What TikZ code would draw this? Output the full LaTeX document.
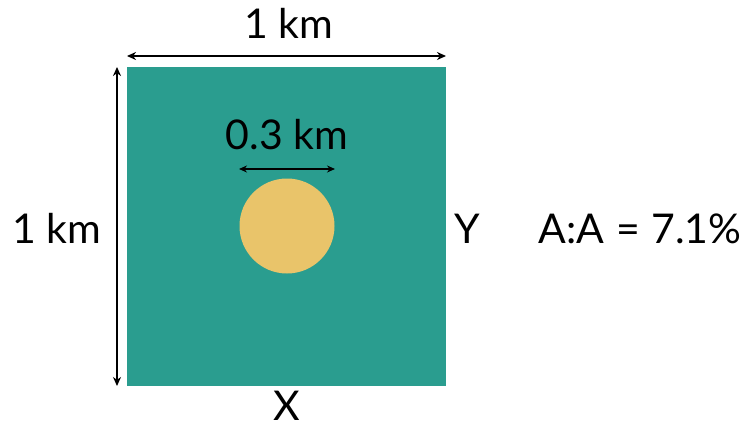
\documentclass[tikz,border=0pt]{standalone}
\usepackage{fontspec}
\setmainfont{Lato}
\usetikzlibrary{arrows.meta}
\definecolor{teal1}{HTML}{2A9D8F}
\definecolor{sand}{HTML}{E9C46A}
\begin{document}
\begin{tikzpicture}[x=1pt,y=-1pt,
  lbl/.style={font=\fontsize{41}{45}\selectfont, inner sep=0pt, anchor=base},
  dim/.style={line width=2.8pt, {Stealth[length=9pt,width=8pt]}-{Stealth[length=9pt,width=8pt]}}]
\useasboundingbox (0,0) rectangle (750,426);
\fill[teal1] (127,67) rectangle (446,386);
\fill[sand] (287,226) circle (47.5);
\coordinate (tl) at (127,56); \coordinate (tr) at (446,56);
\draw[dim] (tl) -- (tr);
\coordinate (lt) at (117,67); \coordinate (lb) at (117,386);
\draw[dim] (lt) -- (lb);
\coordinate (sl) at (239,169); \coordinate (sr) at (335,169);
\draw[dim, line width=2.5pt, {Stealth[length=8pt,width=7pt]}-{Stealth[length=8pt,width=7pt]}] (sl) -- (sr);
\node[lbl] (top) at (289,38) {1 km};
\node[lbl] (left) at (57,243) {1 km};
\node[lbl] (small) at (287,149) {0.3 km};
\node[lbl] (y) at (467,243) {Y};
\node[lbl] (aa) at (640,243) {A:A\hspace{0.05em} = 7.1\%};
\node[lbl] (x) at (287,420) {X};
\end{tikzpicture}
\end{document}
